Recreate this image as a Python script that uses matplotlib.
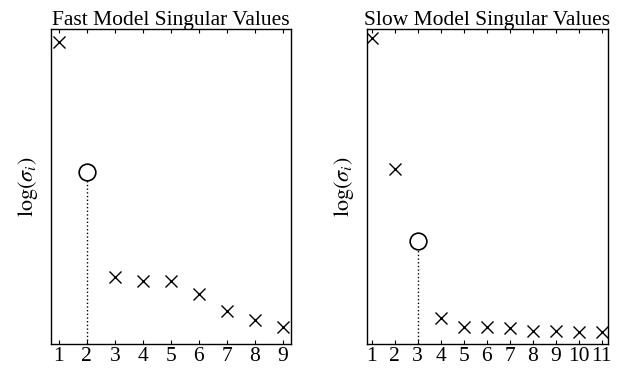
import numpy as np
import matplotlib.pyplot as plt

plt.rcParams['font.family'] = 'serif'
plt.rcParams['font.serif'] = ['Liberation Serif', 'DejaVu Serif']
plt.rcParams['mathtext.fontset'] = 'stix'

# singular values (log scale, arbitrary units)
fast_idx = [1, 2, 3, 4, 5, 6, 7, 8, 9]
fast_log_sv = [9.59, 5.46, 2.13, 2.0, 2.0, 1.59, 1.05, 0.76, 0.54]
fast_cut = 2

slow_idx = [1, 2, 3, 4, 5, 6, 7, 8, 9, 10, 11]
slow_log_sv = [9.7, 5.56, 3.28, 0.83, 0.55, 0.55, 0.52, 0.42, 0.42, 0.39, 0.37]
slow_cut = 3

fig = plt.figure(figsize=(6.31, 3.73), dpi=100)
ax1 = fig.add_axes([51/631, 1-344/373, 240/631, 315/373])
ax2 = fig.add_axes([367/631, 1-344/373, 240.7/631, 315/373])


def draw(ax, idx, vals, cut, title, xlim):
    idx = np.array(idx)
    vals = np.array(vals)
    keep = idx != cut
    ax.plot(idx[keep], vals[keep], 'x', color='k', ms=9, mew=1.0)
    c = vals[idx == cut][0]
    ax.plot([cut, cut], [0, c], ':', color='k', lw=1.0)
    ax.plot([cut], [c], 'o', mfc='white', mec='k', ms=12, mew=1.2)
    ax.set_xlim(*xlim)
    ax.set_ylim(0, 10)
    ax.set_xticks(idx)
    ax.set_xticklabels([str(i) for i in idx], fontsize=15.5)
    ax.set_yticks([])
    ax.tick_params(axis='x', direction='in', top=True, length=3, width=0.8, pad=2)
    ax.set_title(title, fontsize=15.5, pad=3)
    ax.set_ylabel(r'$\log(\sigma_i)$', fontsize=16, labelpad=8)
    for s in ax.spines.values():
        s.set_linewidth(1.0)


draw(ax1, fast_idx, fast_log_sv, fast_cut, 'Fast Model Singular Values', (0.72, 9.3))
draw(ax2, slow_idx, slow_log_sv, slow_cut, 'Slow Model Singular Values', (0.8, 11.26))

fig.savefig('out.png', dpi=100)
